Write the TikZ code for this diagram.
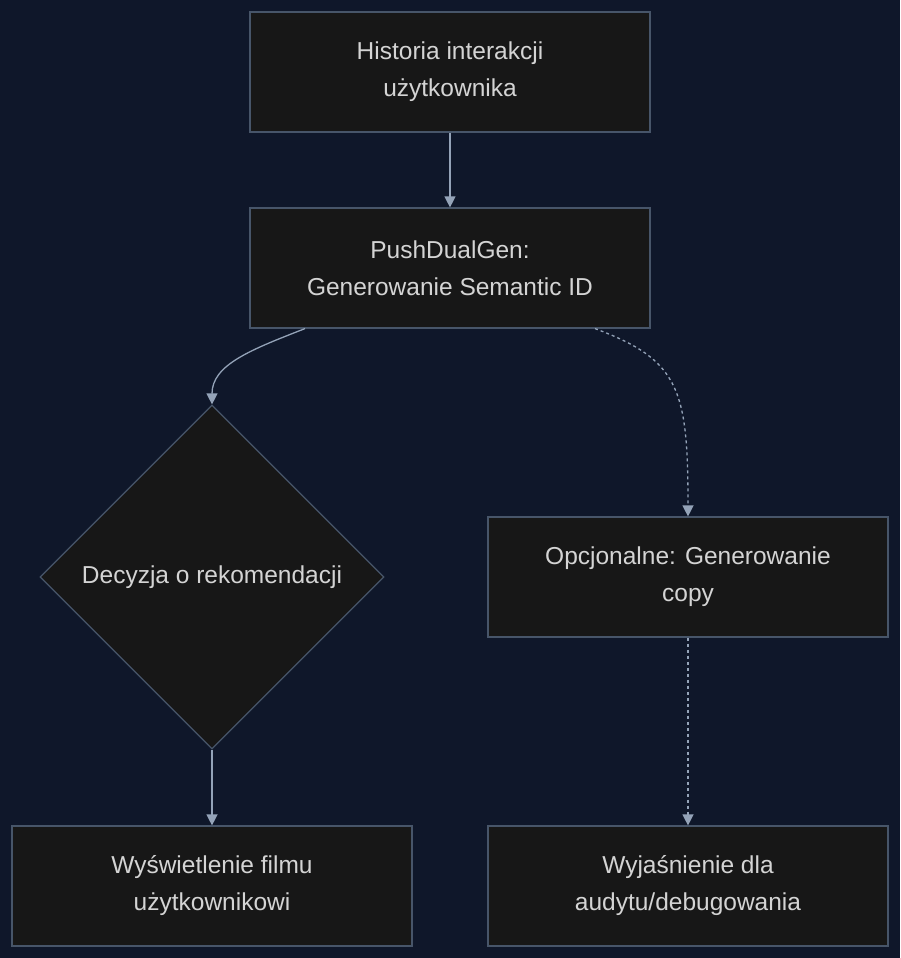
\documentclass[tikz,border=0pt]{standalone}
\usepackage{fontspec}
\setmainfont{Liberation Sans}
\usetikzlibrary{shapes.geometric,arrows.meta}
\definecolor{bg}{HTML}{0F172A}
\definecolor{nf}{HTML}{171717}
\definecolor{ns}{HTML}{475569}
\definecolor{tx}{HTML}{D4D4D4}
\definecolor{ar}{HTML}{94A3B8}
\begin{document}
\begin{tikzpicture}[x=1pt,y=-1pt,
 box/.style={draw=ns,fill=nf,line width=1.2pt,minimum width=400pt,minimum height=120pt,text=tx,font=\fontsize{24.5}{37}\selectfont,align=center,inner sep=0pt},
 dia/.style={diamond,draw=ns,fill=nf,line width=1.2pt,minimum width=344pt,minimum height=344pt,text=tx,font=\fontsize{24.5}{37}\selectfont,inner sep=0pt},
 con/.style={draw=ar,line width=1.3pt,-{Triangle[width=11pt,length=11pt]}},
 dsh/.style={con,dash pattern=on 3pt off 3pt}]
\fill[bg] (0,0) rectangle (900,958);
\useasboundingbox (0,0) rectangle (900,958);
\node[box] (A) at (450,72) {Historia interakcji\\użytkownika};
\node[box] (B) at (450,268) {PushDualGen:\\Generowanie Semantic ID};
\node[dia] (D) at (212,577) {Decyzja o rekomendacji};
\node[box] (C) at (688,577) {Opcjonalne: Generowanie\\copy};
\node[box] (E) at (212,886) {Wyświetlenie filmu\\użytkownikowi};
\node[box] (F) at (688,886) {Wyjaśnienie dla\\audytu/debugowania};
\draw[con] (A) -- (B);
\draw[con] ([xshift=-145pt]B.south) .. controls (250,350) and (212,365) .. (D.north);
\draw[dsh] ([xshift=145pt]B.south) .. controls (680,360) and (688,390) .. (C.north);
\draw[con] (D) -- (E);
\draw[dsh] (C) -- (F);
\end{tikzpicture}
\end{document}
